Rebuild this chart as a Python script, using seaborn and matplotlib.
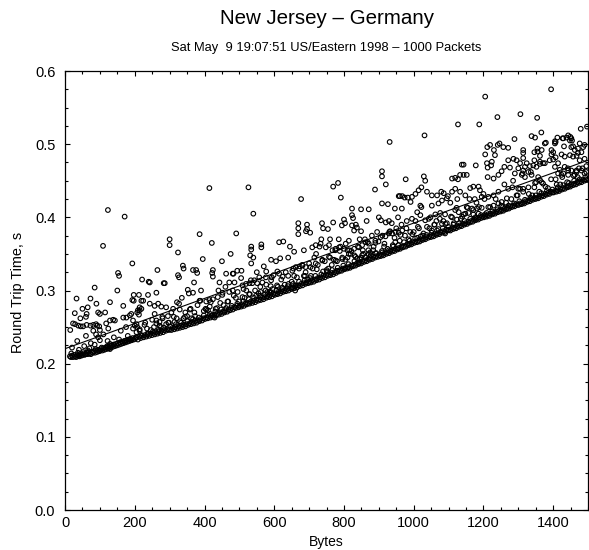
import numpy as np
import pandas as pd
import matplotlib
matplotlib.use("Agg")
import matplotlib.pyplot as plt
import seaborn as sns
from matplotlib.ticker import MultipleLocator, FormatStrFormatter

# ---------------- data (bytes, round trip time in ms) ----------------
band_lo = [(14,210),(17,209),(20,211),(23,209),(26,212),(29,210),(32,209),(35,212),(38,211),(41,210),(44,213),(47,211),(50,212),(53,214),(56,212),(59,213),(62,215),(65,213),(68,216),(71,214),(74,213),(77,216),(80,215),(83,217),(86,215),(89,218),(92,216),(95,219),(98,217),
(101,218),(104,220),(107,218),(110,221),(113,219),(116,222),(119,220),(122,223),(125,221),(128,224),(131,222),(134,225),(137,223),(140,226),(143,224),(146,227),(149,225),(152,228),(155,226),(158,229),(161,227),(164,230),(167,228),(170,231),(173,229),(176,232),(179,230),(182,233),(185,231),(188,234),(191,232),(194,235),(197,233),
(201,234),(205,236),(209,233),(213,237),(217,235),(221,238),(225,236),(229,239),(233,237),(237,240),(241,238),(245,241),(249,239),(253,242),(257,240),(261,243),(265,241),(269,244),(273,242),(277,245),(281,243),(285,246),(289,245),(293,247),(297,246),
(301,247),(305,246),(309,249),(313,247),(317,250),(321,248),(325,251),(329,249),(333,252),(337,250),(341,253),(345,251),(349,254),(353,253),(357,255),(361,254),(365,257),(369,255),(373,258),(377,256),(381,259),(385,258),(389,261),(393,259),(397,262),
(401,261),(405,263),(409,262),(413,265),(417,263),(421,266),(425,264),(429,267),(433,266),(437,268),(441,267),(445,270),(449,268),(453,271),(457,270),(461,273),(465,271),(469,274),(473,273),(477,276),(481,274),(485,277),(489,276),(493,279),(497,277),
(501,279),(505,278),(509,281),(513,279),(517,282),(521,281),(525,283),(529,282),(533,285),(537,283),(541,286),(545,284),(549,287),(553,286),(557,288),(561,287),(565,290),(569,288),(573,291),(577,290),(581,292),(585,291),(589,294),(593,292),(597,295),
(601,294),(605,296),(609,295),(613,298),(617,296),(621,299),(625,298),(629,300),(633,299),(637,302),(641,300),(645,303),(649,302),(653,304),(657,303),(661,306),(665,304),(669,307),(673,306),(677,309),(681,307),(685,310),(689,309),(693,311),(697,310),
(701,312),(705,311),(709,314),(713,312),(717,315),(721,314),(725,317),(729,315),(733,318),(737,317),(741,320),(745,318)]

band_hi = [(749,321),(753,320),(757,322),(761,321),(765,324),(769,322),(773,325),(777,324),(781,327),(785,326),(789,328),(793,327),(797,330),
(801,329),(805,331),(809,330),(813,332),(817,331),(821,334),(825,333),(829,335),(833,334),(837,337),(841,336),(845,338),(849,337),(853,340),(857,339),(861,341),(865,340),(869,343),(873,342),(877,344),(881,343),(885,346),(889,345),(893,347),(897,346),
(901,348),(905,347),(909,349),(913,348),(917,351),(921,350),(925,352),(929,351),(933,354),(937,353),(941,355),(945,354),(949,357),(953,356),(957,358),(961,357),(965,360),(969,359),(973,361),(977,360),(981,363),(985,362),(989,364),(993,363),(997,366),
(1001,365),(1005,367),(1009,366),(1013,368),(1017,367),(1021,370),(1025,369),(1029,371),(1033,370),(1037,373),(1041,372),(1045,374),(1049,373),(1053,375),(1057,374),(1061,377),(1065,376),(1069,378),(1073,377),(1077,380),(1081,379),(1085,381),(1089,380),(1093,383),(1097,382),
(1101,383),(1105,382),(1109,385),(1113,384),(1117,386),(1121,385),(1125,388),(1129,387),(1133,389),(1137,388),(1141,391),(1145,390),(1149,392),(1153,391),(1157,394),(1161,393),(1165,395),(1169,394),(1173,397),(1177,396),(1181,398),(1185,397),(1189,400),(1193,399),(1197,401),
(1201,400),(1205,402),(1209,401),(1213,403),(1217,402),(1221,405),(1225,404),(1229,406),(1233,405),(1237,408),(1241,407),(1245,409),(1249,408),(1253,410),(1257,409),(1261,412),(1265,411),(1269,413),(1273,412),(1277,415),(1281,414),(1285,416),(1289,415),(1293,418),(1297,417),
(1301,417),(1305,419),(1309,418),(1313,420),(1317,419),(1321,422),(1325,421),(1329,423),(1333,422),(1337,425),(1341,424),(1345,426),(1349,425),(1353,427),(1357,426),(1361,429),(1365,428),(1369,430),(1373,429),(1377,432),(1381,431),(1385,433),(1389,432),(1393,435),(1397,434),
(1401,434),(1405,436),(1409,435),(1413,437),(1417,436),(1421,439),(1425,438),(1429,440),(1433,439),(1437,442),(1441,441),(1445,443),(1449,442),(1453,445),(1457,444),(1461,446),(1465,445),(1469,448),(1473,447),(1477,449),(1481,448),(1485,451),(1489,450),(1493,452),(1497,451)]

band_upper = [(18,214),(37,215),(52,216),(66,218),(88,220),(105,222),(121,224),(139,226),(158,229),(172,231),(186,233),(203,236),(219,239),(236,241),(252,244),(268,246),(284,249),(302,251),(318,254),(333,256),(351,258),(367,261),(384,263),(398,266),(416,268),(431,271),(447,274),(462,276),(478,279),(494,282),
(511,285),(527,288),(542,290),(559,293),(574,295),(590,298),(606,300),(623,304),(639,306),(654,309),(671,312),(687,314),(703,317),(718,320),(735,322),(751,326),(766,328),(782,331),(798,334),(813,336),(830,340),(846,343),(861,345),(877,348),(893,351),(909,354),(925,357),(941,360),(956,362),(972,366),(988,368),
(1004,371),(1020,374),(1036,376),(1051,379),(1067,382),(1083,385),(1099,387),(1114,390),(1130,392),(1146,395),(1162,398),(1177,400),(1193,403),(1209,406),(1225,408),(1240,411),(1256,414),(1272,416),(1288,419),(1303,422),(1319,424),(1335,427),(1350,430),(1366,433),(1382,436),(1398,438),(1413,441),(1429,444),(1445,447),(1460,450),(1476,452),(1492,455)]

cloud_lo = [(23,255),(29,254),(38,252),(45,251),(52,251),(62,253),(73,252),(81,253),(89,254),(92,252),(98,251),(100,246),(81,245),(89,240),(95,236),(100,232),(74,228),(33,289),(28,269),(50,275),(65,277),(73,289),(90,282),(95,270),(100,268),(62,268),(60,264),(85,304),(20,222),(40,219),(55,224),(70,221),(85,226),(35,231),(60,238),(15,246),(44,262),
(109,361),(123,410),(171,401),(152,324),(155,320),(193,337),(167,279),(197,294),(193,287),(197,286),(129,284),(129,259),(138,260),(143,259),(124,248),(122,231),(129,227),(133,225),(167,263),(176,263),(186,266),(190,268),(195,259),(200,252),(195,248),(129,220),(150,300),(110,240),(160,245),(180,238),(115,270),(140,236),(118,255),(175,250),(155,233),
(221,315),(240,312),(243,311),(265,328),(286,310),(212,294),(238,294),(262,297),(219,286),(214,277),(209,273),(207,270),(214,273),(219,275),(212,267),(207,250),(214,245),(243,282),(257,279),(267,282),(276,278),(290,277),(257,268),(262,259),(271,257),(271,252),(290,254),(283,310),(224,286),(205,254),(214,247),(300,370),(300,362),(250,260),(230,256),(280,262),(295,265),(235,248),(255,250),(275,250),(298,256),
(324,352),(324,321),(327,318),(338,334),(340,330),(367,328),(376,328),(379,324),(370,311),(352,301),(367,297),(355,296),(386,377),(395,343),(386,286),(310,275),(321,284),(327,282),(314,257),(371,270),(320,262),(345,270),(360,275),(335,290),(390,300),(380,280),(350,265),(330,258),(305,270),(362,262),(398,272),(340,262),
(414,440),(421,365),(491,378),(424,328),(424,319),(422,324),(443,311),(462,323),(471,311),(486,311),(495,298),(481,323),(405,285),(414,287),(424,288),(438,291),(452,297),(471,298),(481,300),(405,274),(410,273),(422,266),(429,263),(483,323),(494,327),(450,340),(475,350),(440,300),(415,278),(455,280),(468,285),(490,290),(432,275),(460,305),(445,283)]

cloud_mid = [(526,441),(540,405),(534,360),(534,356),(563,363),(563,359),(531,348),(540,345),(534,337),(506,327),(577,326),(591,314),(566,311),(551,310),(509,307),(529,310),(537,310),(591,342),(520,300),(545,300),(560,305),(575,300),(590,306),(515,290),(530,295),(555,296),(580,298),(595,302),(509,291),(548,293),(586,298),(519,309),(533,314),(557,318),(576,318),(598,321),(570,333),(505,317),(550,325),
(614,366),(626,367),(617,344),(657,353),(669,392),(669,385),(669,377),(677,425),(694,390),(694,384),(691,381),(609,326),(620,315),(640,320),(655,330),(680,335),(690,325),(640,345),(660,300),(695,315),(614,323),(633,325),(652,327),(671,330),(690,332),(624,302),(662,307),(662,332),(681,334),(610,305),(630,308),(650,312),(665,318),(685,320),(605,340),(645,360),(685,355),
(737,392),(740,385),(754,384),(769,393),(783,447),(769,442),(791,427),(703,379),(720,350),(730,360),(745,340),(760,345),(775,355),(790,360),(710,330),(725,335),(750,328),(765,335),(780,340),(795,345),(715,345),(735,370),(785,370),(760,370),(709,359),(719,362),(733,364),(748,359),(757,362),(767,355),(776,357),(786,359),(700,337),(719,337),(738,341),(757,346),(776,341),(795,343),(705,320),(740,326),
(800,397),(794,389),(803,392),(823,412),(823,403),(826,399),(849,411),(871,411),(823,389),(834,390),(837,386),(829,382),(849,381),(889,438),(860,370),(880,375),(895,380),(815,355),(840,360),(855,350),(870,355),(885,360),(810,345),(830,348),(850,345),(875,352),(890,365),(845,370),(865,395),(800,357),(805,364),(814,368),(810,355),(819,350),(829,357),(843,359),(852,362),(862,366),(871,364),(890,368),(814,350),(833,346),(852,348),(871,350),(890,351),
(931,503),(909,463),(909,456),(920,445),(977,452),(909,419),(926,418),(946,412),(966,412),(960,429),(974,427),(983,427),(957,429),(967,429),(900,400),(906,396),(920,393),(929,395),(937,392),(950,385),(965,390),(980,395),(995,398),(910,375),(930,380),(945,372),(960,368),(975,375),(990,380),(915,360),(940,362),(985,370),(955,400),(905,373),(919,374),(929,378),(938,378),(948,380),(957,379),(967,382),(910,352),(929,355),(991,421),(995,428)]

cloud_hi = [(1005,432),(1031,512),(1029,456),(1033,450),(1022,441),(1014,437),(1038,435),(1019,416),(1022,414),(1010,407),(1019,403),(1052,430),(1067,430),(1079,435),(1086,433),(1052,416),(1071,419),(1098,429),(1081,423),(1095,426),(1033,396),(1048,400),(1062,404),(1076,406),(1090,404),(1038,387),(1052,382),(1071,384),(1090,378),(1081,391),(1000,380),(1015,385),(1025,375),(1060,390),(1005,395),(1045,385),(1065,395),(1085,395),(1010,372),(1095,392),
(1127,527),(1188,527),(1138,472),(1143,472),(1143,458),(1152,458),(1133,458),(1110,453),(1119,454),(1127,452),(1178,471),(1162,440),(1171,442),(1186,442),(1190,437),(1148,430),(1133,435),(1119,439),(1110,435),(1152,414),(1167,412),(1181,412),(1195,413),(1119,410),(1129,407),(1148,405),(1186,405),(1110,400),(1124,397),(1143,404),(1157,406),(1171,410),(1105,420),(1125,425),(1160,425),(1175,425),(1195,428),(1115,392),(1135,398),(1180,420),
(1205,565),(1240,537),(1205,486),(1212,468),(1222,471),(1211,496),(1219,499),(1241,499),(1246,501),(1230,492),(1233,485),(1257,496),(1271,495),(1289,507),(1271,478),(1286,480),(1210,474),(1224,476),(1212,455),(1229,453),(1243,458),(1260,469),(1252,463),(1276,468),(1271,439),(1243,435),(1229,430),(1214,428),(1200,432),(1243,419),(1229,416),(1214,414),(1252,421),(1205,404),(1260,445),(1285,450),(1295,430),(1280,425),(1265,420),(1290,460),
(1306,541),(1354,536),(1366,516),(1338,511),(1348,509),(1376,501),(1314,492),(1314,488),(1314,481),(1355,494),(1367,492),(1395,492),(1346,489),(1355,490),(1362,484),(1346,478),(1362,476),(1376,474),(1390,478),(1295,478),(1305,474),(1300,467),(1314,464),(1329,462),(1310,458),(1319,455),(1319,469),(1333,470),(1352,469),(1338,458),(1357,455),(1348,447),(1371,446),(1300,439),(1329,441),(1314,435),(1305,439),(1343,471),(1362,473),(1371,474),(1367,448),(1351,448),(1336,462),(1312,460),(1324,474),(1379,502),(1395,486),(1340,430),(1385,440),(1360,435),
(1394,575),(1479,521),(1497,524),(1429,508),(1438,509),(1452,508),(1448,505),(1443,512),(1449,510),(1454,505),(1427,508),(1412,509),(1407,503),(1405,504),(1405,501),(1431,497),(1457,497),(1471,494),(1486,496),(1452,496),(1462,492),(1490,499),(1476,501),(1400,489),(1407,482),(1400,479),(1424,486),(1433,483),(1448,485),(1457,483),(1471,488),(1467,484),(1481,489),(1476,478),(1490,480),(1407,452),(1419,465),(1429,460),(1443,464),(1467,464),(1462,458),(1481,464),(1433,469),(1452,464),(1467,462),(1484,467),(1495,462),(1414,474),(1414,460),(1424,458),(1443,458),(1405,469),(1440,448),(1470,455),(1420,445),(1495,470)]

cloud_near_fit = [(205,243),(228,253),(246,246),(262,255),(279,264),(296,256),(312,264),(329,274),(344,264),(358,274),(373,265),(388,286),(403,275),(418,284),(436,276),(451,294),(466,285),(484,293),(499,285),
(512,302),(528,295),(543,314),(561,298),(577,308),(593,318),(608,307),(624,319),(641,309),(657,320),(673,333),(688,320),(704,332),(722,329),(738,342),(755,330),(771,342),(788,354),(804,342),(821,354),(838,344),(854,355),(868,366),(884,355),(899,367),(916,364),(932,381),(947,366),(962,376),(979,385),(996,377),
(1012,387),(1028,378),(1043,398),(1059,390),(1075,398),(1091,391),(1107,401),(1123,413),(1139,401),(1155,413),(1171,404),(1187,414),(1203,425),(1219,414),(1235,425),(1251,416),(1267,426),(1283,441),(1298,430),(1314,439),(1330,432),(1346,441),(1362,451),(1378,442),(1394,452),(1410,445),(1426,455),(1442,467),(1458,457),(1474,467),(1490,460)]

# least-squares fit line (bytes, seconds)
fit_bytes = [0, 1500]
fit_rtt = [0.2205, 0.478]

title = "New Jersey \u2013 Germany"
subtitle = "Sat May  9 19:07:51 US/Eastern 1998 \u2013 1000 Packets"
x_label = "Bytes"
y_label = "Round Trip Time, s"

# ---------------- build table ----------------
pairs = band_lo + band_hi + band_upper + cloud_lo + cloud_mid + cloud_hi + cloud_near_fit
df = pd.DataFrame(pairs, columns=["bytes", "ms"])
df["rtt"] = df["ms"] / 1000.0
fit_df = pd.DataFrame({"bytes": fit_bytes, "rtt": fit_rtt})

# ---------------- plot ----------------
sns.set_theme(style="ticks")
plt.rcParams["font.family"] = ["Liberation Sans", "DejaVu Sans"]
plt.rcParams["text.color"] = "black"
plt.rcParams["axes.labelcolor"] = "black"

fig = plt.figure(figsize=(5.89, 5.5), dpi=100)
ax = fig.add_axes([0.1104, 0.0727, 0.888, 0.7982])

sns.scatterplot(data=df, x="bytes", y="rtt", ax=ax, marker="o", s=11,
                facecolor="none", edgecolor="black", linewidth=0.8, legend=False)
sns.lineplot(data=fit_df, x="bytes", y="rtt", ax=ax, color="black",
             linewidth=0.8, legend=False)

ax.set_xlim(0, 1500)
ax.set_ylim(0.0, 0.6)
ax.xaxis.set_major_locator(MultipleLocator(200))
ax.xaxis.set_minor_locator(MultipleLocator(50))
ax.yaxis.set_major_locator(MultipleLocator(0.1))
ax.yaxis.set_minor_locator(MultipleLocator(0.025))
ax.yaxis.set_major_formatter(FormatStrFormatter("%.1f"))
ax.tick_params(which="both", direction="in", top=True, right=True,
               colors="black", labelsize=10.5, width=0.8)
ax.tick_params(which="major", length=3.8, pad=4.5)
ax.tick_params(which="minor", length=2.0)
ax.tick_params(axis="y", which="major", pad=7)
for sp in ax.spines.values():
    sp.set_visible(True)
    sp.set_color("black")
    sp.set_linewidth(0.9)

ax.set_xlabel(x_label, fontsize=10, color="black")
ax.xaxis.set_label_coords(0.5, -0.058)
ax.set_ylabel(y_label, fontsize=10.4, color="black")
ax.yaxis.set_label_coords(-0.077, 0.495)

cx = 0.1104 + 0.888 / 2
fig.text(cx, 0.967, title, ha="center", va="center", fontsize=14.8, color="black")
fig.text(cx, 0.912, subtitle, ha="center", va="center", fontsize=9.3, color="black")

fig.savefig("out.png", dpi=100)
